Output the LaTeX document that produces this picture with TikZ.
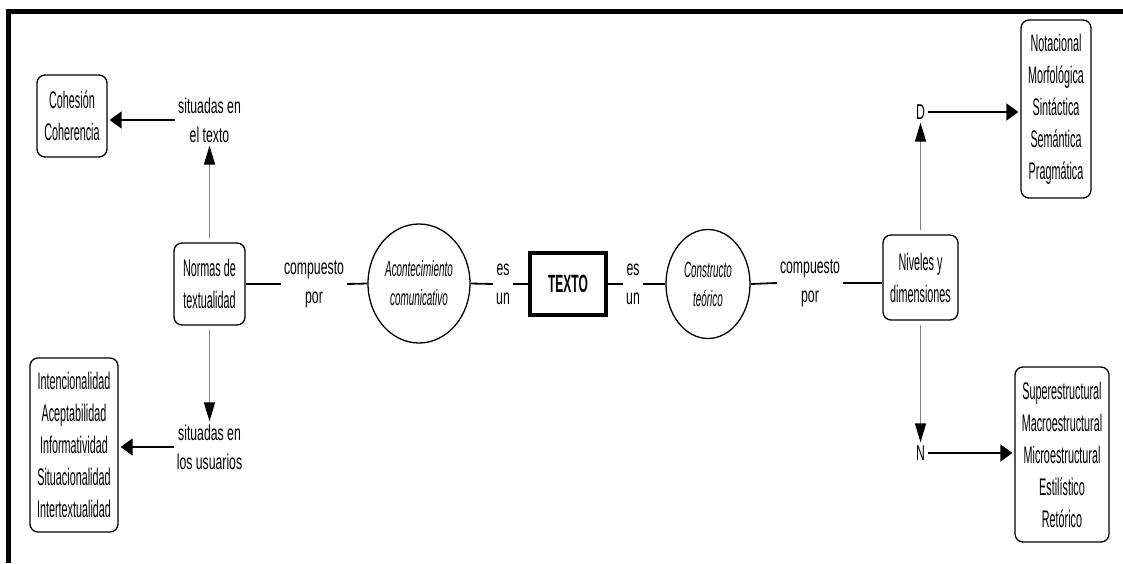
\documentclass[tikz,border=0pt]{standalone}
\usepackage{fontspec}
\setmainfont{Liberation Sans}[FakeStretch=0.57]
\newfontfamily\estrecha{Liberation Sans}[FakeStretch=0.45]
\newfontfamily\negrita{Liberation Sans}[FakeStretch=0.48]
\usetikzlibrary{arrows.meta,shapes.geometric}

\tikzset{
  caja/.style={draw, line width=1.3pt, rounded corners=8pt, align=center,
    inner sep=0pt, font=\estrecha\fontsize{24}{32}\selectfont},
  circulo/.style={draw, ellipse, line width=1.3pt, align=center,
    inner sep=0pt, font=\estrecha\itshape\fontsize{22}{29}\selectfont},
  etiqueta/.style={align=center, inner sep=3pt, font=\fontsize{21.5}{29}\selectfont},
  linea/.style={line width=1.8pt},
  flecha/.style={-{Triangle[length=12pt,width=17pt]}, line width=1.8pt, shorten >=2pt},
  rama/.style={-{Triangle[length=19pt,width=11pt,color=black]}, line width=1.4pt, gray, shorten <=4pt},
}

\begin{document}
\begin{tikzpicture}[x=1pt, y=1pt]
	\useasboundingbox (0,0) rectangle (1123,563);
	
	% marco
	\draw[line width=4.5pt] (8.5,0) -- (8.5,551.5) -- (1123,551.5);
	
	% nodos centrales
	\node[draw, line width=4pt, minimum width=76, minimum height=62, inner sep=0pt,
	  font=\negrita\bfseries\fontsize{25}{30}\selectfont] (texto) at (568,279) {TEXTO};
	\node[circulo, minimum width=102, minimum height=119] (acont) at (419,279.5) {Acontecimiento\\comunicativo};
	\node[circulo, minimum width=84, minimum height=109] (constr) at (708,279) {Constructo\\teórico};
	\node[caja, minimum width=71, minimum height=82] (normas) at (209.5,279) {Normas de\\textualidad};
	\node[caja, minimum width=75, minimum height=85] (niveles) at (920.5,285.5) {Niveles y\\dimensiones};
	
	% cajas de los extremos
	\node[caja, minimum width=70, minimum height=82] (coh) at (72,447) {Cohesión\\Coherencia};
	\node[caja, minimum width=88, minimum height=174] (intenc) at (74,118)
	  {Intencionalidad\\Aceptabilidad\\Informatividad\\Situacionalidad\\Intertextualidad};
	\node[caja, minimum width=70, minimum height=178] (notac) at (1056,454)
	  {Notacional\\Morfológica\\Sintáctica\\Semántica\\Pragmática};
	\node[caja, minimum width=94, minimum height=175] (super) at (1062,108.5)
	  {Superestructural\\Macroestructural\\Microestructural\\Estilístico\\Retórico};
	
	% etiquetas
	\node[etiqueta] (comp1) at (314,279) {compuesto\\por};
	\node[etiqueta] (es1) at (503,279) {es\\un};
	\node[etiqueta] (es2) at (633,279) {es\\un};
	\node[etiqueta] (comp2) at (810,280) {compuesto\\por};
	\node[etiqueta] (sittexto) at (209.5,443) {situadas en\\el texto};
	\node[etiqueta] (situsu) at (209.5,116) {situadas en\\los usuarios};
	\node[etiqueta] (dd) at (920.5,451) {D};
	\node[etiqueta] (nn) at (920.5,110) {N};
	
	% fila horizontal
	\draw[linea] (normas.east) -- (comp1.west);
	\draw[linea] (comp1.east) -- (acont.west);
	\draw[linea] (acont.east) -- (es1.west);
	\draw[linea] (es1.east) -- (texto.west);
	\draw[linea] (texto.east) -- (es2.west);
	\draw[linea] (es2.east) -- (constr.west);
	\draw[linea] (constr.east) -- (comp2.west);
	\draw[linea] (comp2.east) -- (comp2.east -| niveles.west);
	
	% ramas
	\draw[rama] (normas.north) -- (sittexto.south);
	\draw[rama] (normas.south) -- (situsu.north);
	\draw[rama] (niveles.north) -- (dd.south);
	\draw[rama] (niveles.south) -- (nn.north);
	\draw[flecha] (sittexto.west) -- (sittexto.west -| coh.east);
	\draw[flecha] (situsu.west) -- (situsu.west -| intenc.east);
	\draw[flecha] (dd.east) -- (dd.east -| notac.west);
	\draw[flecha] (nn.east) -- (nn.east -| super.west);
\end{tikzpicture}
\end{document}
